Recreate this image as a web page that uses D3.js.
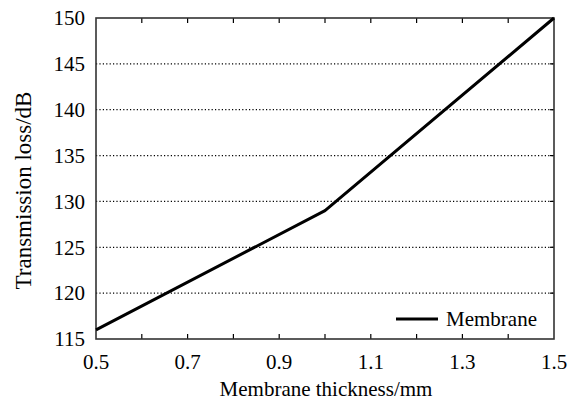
<!DOCTYPE html>
<html>
<head>
<meta charset="utf-8">
<script src="https://cdn.jsdelivr.net/npm/d3@7"></script>
<style>
  body { margin: 0; background: #fff; }
  svg { font-family: "Liberation Serif", "Times New Roman", serif; }
</style>
</head>
<body>
<svg width="580" height="411"></svg>
<script>
// data
const thickness = [0.5, 1.0, 1.5];
const loss = [116, 129, 150];
const xTicks = [0.5, 0.7, 0.9, 1.1, 1.3, 1.5];
const xMinorTicks = [0.6, 0.7, 0.8, 0.9, 1.0, 1.1, 1.2, 1.3, 1.4];
const yTicks = [115, 120, 125, 130, 135, 140, 145, 150];
const seriesName = "Membrane";

const svg = d3.select("svg");
const margin = { left: 96, right: 26, top: 18, bottom: 72 };
const width = 580 - margin.left - margin.right;
const height = 411 - margin.top - margin.bottom;

const x = d3.scaleLinear().domain([0.5, 1.5]).range([0, width]);
const y = d3.scaleLinear().domain([115, 150]).range([height, 0]);

const g = svg.append("g").attr("transform", `translate(${margin.left},${margin.top})`);

// dotted horizontal grid
g.selectAll(".grid").data(yTicks.filter(d => d > 115 && d < 150)).enter()
  .append("line")
  .attr("x1", 0).attr("x2", width)
  .attr("y1", d => y(d)).attr("y2", d => y(d))
  .attr("stroke", "#000").attr("stroke-width", 1.2)
  .attr("stroke-dasharray", "1.2,2.2");

// inward minor ticks top and bottom
g.selectAll(".tb").data(xMinorTicks).enter()
  .append("line")
  .attr("x1", d => x(d)).attr("x2", d => x(d))
  .attr("y1", height).attr("y2", height - 5)
  .attr("stroke", "#000").attr("stroke-width", 1.2);
g.selectAll(".tt").data(xMinorTicks).enter()
  .append("line")
  .attr("x1", d => x(d)).attr("x2", d => x(d))
  .attr("y1", 0).attr("y2", 5)
  .attr("stroke", "#000").attr("stroke-width", 1.2);
// right side ticks
g.selectAll(".tr").data(yTicks.filter(d => d > 115 && d < 150)).enter()
  .append("line")
  .attr("x1", width).attr("x2", width - 4)
  .attr("y1", d => y(d)).attr("y2", d => y(d))
  .attr("stroke", "#000").attr("stroke-width", 1.2);

// frame
g.append("rect")
  .attr("width", width).attr("height", height)
  .attr("fill", "none").attr("stroke", "#333").attr("stroke-width", 1.6);

// tick labels
g.selectAll(".xl").data(xTicks).enter()
  .append("text")
  .attr("x", d => x(d)).attr("y", height + 30)
  .attr("text-anchor", "middle")
  .attr("font-size", 21)
  .text(d => d3.format(".1f")(d));

g.selectAll(".yl").data(yTicks).enter()
  .append("text")
  .attr("x", -11).attr("y", d => y(d))
  .attr("dy", "0.35em")
  .attr("text-anchor", "end")
  .attr("font-size", 21)
  .text(d => d);

// series line
const pts = thickness.map((t, i) => [t, loss[i]]);
g.append("path")
  .datum(pts)
  .attr("fill", "none")
  .attr("stroke", "#000")
  .attr("stroke-width", 3)
  .attr("stroke-linejoin", "round")
  .attr("d", d3.line().x(d => x(d[0])).y(d => y(d[1])));

// legend
const lg = g.append("g").attr("transform", `translate(${width - 158},${height - 20})`);
lg.append("line").attr("x1", 0).attr("x2", 42).attr("y1", 0).attr("y2", 0)
  .attr("stroke", "#000").attr("stroke-width", 3);
lg.append("text").attr("x", 50).attr("y", 0).attr("dy", "0.35em")
  .attr("font-size", 21).text(seriesName);

// axis titles
svg.append("text")
  .attr("x", margin.left + width / 2 + 1).attr("y", 396)
  .attr("text-anchor", "middle")
  .attr("font-size", 21)
  .text("Membrane thickness/mm");

svg.append("text")
  .attr("transform", `translate(31,${margin.top + height / 2 + 12}) rotate(-90)`)
  .attr("text-anchor", "middle")
  .attr("font-size", 23)
  .text("Transmission loss/dB");
</script>
</body>
</html>
